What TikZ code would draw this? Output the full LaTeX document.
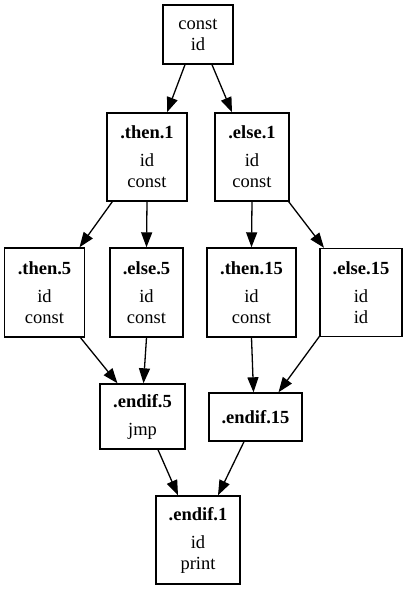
\documentclass[tikz,border=0pt]{standalone}
\usepackage{fontspec}
\setmainfont{Liberation Serif}
\usetikzlibrary{arrows.meta,calc}
\tikzset{
  blk/.style={draw=black, line width=1.4pt, align=center, inner sep=0pt,
    font=\fontsize{18.5}{21}\selectfont, minimum height=88pt},
  edge/.style={draw=black, line width=1.3pt, -{Triangle[length=15pt,width=11pt]}},
}
\newcommand{\ttl}[1]{\textbf{#1}\\[7pt]}
\begin{document}
\begin{tikzpicture}[x=1pt,y=-1pt]
\useasboundingbox (0,0) rectangle (408,590);
\node[blk, minimum width=70pt, minimum height=59pt] (top) at (198,34.5) {const\\id};
\node[blk, minimum width=80pt] (then1) at (147,157) {\ttl{.then.1}id\\const};
\node[blk, minimum width=74pt] (else1) at (252,157) {\ttl{.else.1}id\\const};
\node[blk, minimum width=80pt, minimum height=89pt] (then5) at (44.5,292.5) {\ttl{.then.5}id\\const};
\node[blk, minimum width=73pt, minimum height=89pt] (else5) at (146.5,292.5) {\ttl{.else.5}id\\const};
\node[blk, minimum width=89pt, minimum height=89pt] (then15) at (251.5,292.5) {\ttl{.then.15}id\\const};
\node[blk, minimum width=82pt] (else15) at (361,292.5) {\ttl{.else.15}id\\id};
\node[blk, minimum width=85pt, minimum height=65pt] (endif5) at (142.5,416.5) {\ttl{.endif.5}jmp};
\node[blk, minimum width=93pt, minimum height=48pt] (endif15) at (255.5,417) {\textbf{.endif.15}};
\node[blk, minimum width=84pt] (endif1) at (198,540) {\ttl{.endif.1}id\\print};

\draw[edge] ($(top.south)+(-13,0)$) -- ($(then1.north)+(20,0)$);
\draw[edge] ($(top.south)+(14,0)$) -- ($(else1.north)+(-20,0)$);
\draw[edge] ($(then1.south west)+(6,0)$) -- ($(then5.north)+(35,0)$);
\draw[edge] (then1.south) -- (else5.north);
\draw[edge] (else1.south) -- (then15.north);
\draw[edge] ($(else1.south east)+(-1,0)$) -- ($(else15.north)+(-37,0)$);
\draw[edge] ($(then5.south)+(36,0)$) -- ($(endif5.north)+(-25,0)$);
\draw[edge] (else5.south) -- ($(endif5.north)+(1,0)$);
\draw[edge] (then15.south) -- ($(endif15.north)+(-2,0)$);
\draw[edge] ($(else15.south west)+(1,-2)$) -- ($(endif15.north)+(23,0)$);
\draw[edge] ($(endif5.south)+(15.5,0)$) -- ($(endif1.north)+(-20,0)$);
\draw[edge] ($(endif15.south)+(-11.5,0)$) -- ($(endif1.north)+(20,0)$);
\end{tikzpicture}
\end{document}
